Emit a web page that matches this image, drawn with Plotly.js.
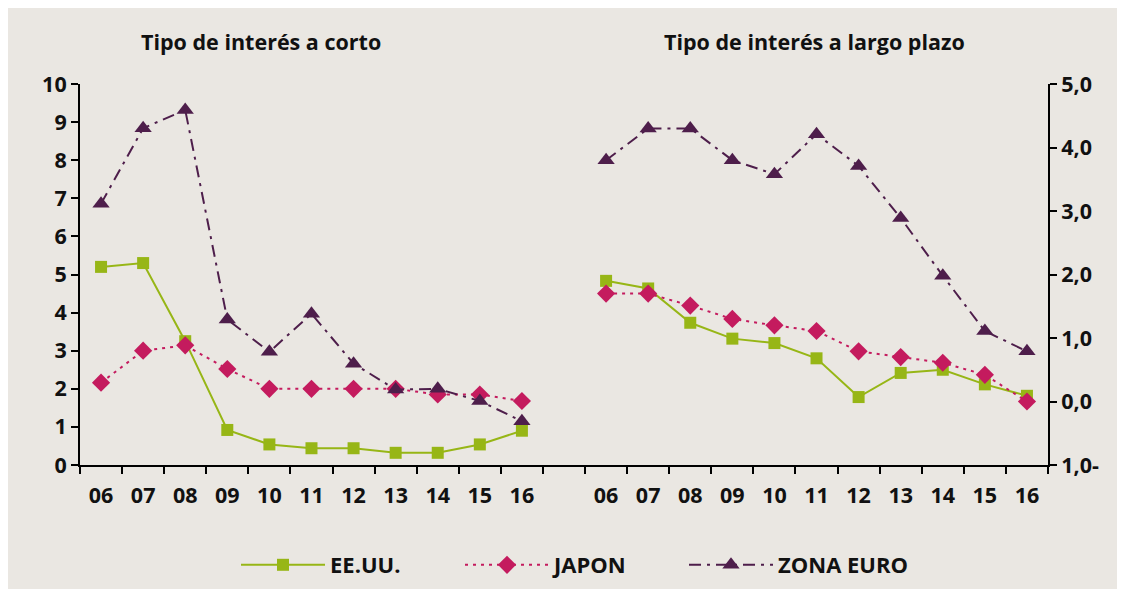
<!DOCTYPE html>
<html>
<head>
<meta charset="utf-8">
<script src="https://cdn.plot.ly/plotly-3.0.1.min.js"></script>
<style>html,body{margin:0;padding:0;background:#fff;}#chart{width:1124px;height:593px;}</style>
</head>
<body>
<div id="chart"></div>
<script>
// Categories (years)
var years = ['06','07','08','09','10','11','12','13','14','15','16'];
// Short-term interest rates (left panel, %)
var shortUS = [5.2, 5.3, 3.25, 0.92, 0.54, 0.44, 0.44, 0.32, 0.32, 0.54, 0.9];
var shortJP = [2.16, 3.0, 3.14, 2.52, 2.0, 2.0, 2.0, 2.0, 1.85, 1.85, 1.68];
var shortEU = [6.86, 8.84, 9.32, 3.82, 2.97, 3.97, 2.66, 1.98, 2.0, 1.68, 1.15];
// Long-term interest rates (right panel, %)
var longUS = [1.9, 1.78, 1.24, 0.99, 0.92, 0.68, 0.07, 0.45, 0.5, 0.27, 0.09];
var longJP = [1.7, 1.7, 1.51, 1.3, 1.2, 1.11, 0.79, 0.7, 0.61, 0.42, 0.0];
var longEU = [3.8, 4.3, 4.3, 3.8, 3.58, 4.21, 3.71, 2.89, 1.98, 1.11, 0.79];
// Tick labels
var leftTickVals = [0, 1, 2, 3, 4, 5, 6, 7, 8, 9, 10];
var rightTickVals = [-1, 0, 1, 2, 3, 4, 5];
var rightTickText = ['1,0-', '0,0', '1,0', '2,0', '3,0', '4,0', '5,0'];
var seriesNames = ['EE.UU.', 'JAPON', 'ZONA EURO'];
var panelTitles = ['Tipo de interés a corto', 'Tipo de interés a largo plazo'];

var GAP = 1; // empty category slot between the two panels
var leftX = years.map(function(_, i){ return i; });
var rightX = years.map(function(_, i){ return i + years.length + GAP; });
var nSlots = years.length * 2 + GAP;

var styles = [
  {color: '#97B616', dash: 'solid', symbol: 'square', size: 12},
  {color: '#C41B5E', dash: '3px,5px', symbol: 'diamond', size: 14},
  {color: '#4E1E4B', dash: '12px,6px,3px,6px', symbol: 'triangle-up', size: 15}
];
var shortSeries = [shortUS, shortJP, shortEU];
var longSeries = [longUS, longJP, longEU];

function mkFont(sz){ return {family: 'Open Sans, sans-serif', color: '#111', size: sz, weight: 700}; }

var traces = [];
shortSeries.forEach(function(vals, k){
  var s = styles[k];
  traces.push({
    type: 'scatter', mode: 'lines+markers', name: seriesNames[k], legendgroup: 'g' + k,
    x: leftX, y: vals, xaxis: 'x', yaxis: 'y',
    line: {color: s.color, width: 2, dash: s.dash},
    marker: {symbol: s.symbol, size: s.size, color: s.color}
  });
});
longSeries.forEach(function(vals, k){
  var s = styles[k];
  traces.push({
    type: 'scatter', mode: 'lines+markers', name: seriesNames[k], legendgroup: 'g' + k, showlegend: false,
    x: rightX, y: vals, xaxis: 'x', yaxis: 'y2',
    line: {color: s.color, width: 2, dash: s.dash},
    marker: {symbol: s.symbol, size: s.size, color: s.color}
  });
});

var labelVals = leftX.concat(rightX);
var labelText = years.concat(years);
var boundaryVals = [];
for (var b = 0; b <= nSlots; b++) boundaryVals.push(b - 0.5);

var W = 1124, H = 593;
var mL = 80, mR = 76, mT = 84, mB = 128;
var plotW = W - mL - mR, plotH = H - mT - mB;
function px2x(p){ return (p - mL) / plotW; }
function px2y(p){ return (H - mB - p) / plotH; }

var layout = {
  width: W, height: H,
  paper_bgcolor: '#FFFFFF', plot_bgcolor: 'rgba(0,0,0,0)',
  margin: {l: mL, r: mR, t: mT, b: mB, pad: 0, autoexpand: false},
  font: mkFont(21.5),
  showlegend: true,
  shapes: [
    {type: 'rect', xref: 'paper', yref: 'paper', layer: 'below', x0: px2x(8), x1: px2x(1117), y0: px2y(589), y1: px2y(8),
     fillcolor: '#EAE7E2', line: {width: 0}}
  ],
  xaxis: {
    range: [-0.5, nSlots - 0.5], tickmode: 'array', tickvals: labelVals, ticktext: labelText,
    ticks: 'outside', ticklen: 10, tickwidth: 1, tickcolor: 'rgba(0,0,0,0)',
    minor: {tickmode: 'array', tickvals: boundaryVals, ticks: 'outside', ticklen: 7, tickwidth: 2, tickcolor: '#000', showgrid: false},
    showline: true, linecolor: '#000', linewidth: 2, showgrid: false, zeroline: false,
    tickfont: mkFont(21.5)
  },
  yaxis: {
    range: [0, 10], tickmode: 'array', tickvals: leftTickVals,
    ticks: 'outside', ticklen: 7, tickwidth: 2, tickcolor: '#000',
    showline: true, linecolor: '#000', linewidth: 2, showgrid: false, zeroline: false,
    tickfont: mkFont(21.5)
  },
  yaxis2: {
    overlaying: 'y', side: 'right', anchor: 'x', range: [-1, 5], tickmode: 'array',
    tickvals: rightTickVals, ticktext: rightTickText,
    ticks: 'outside', ticklen: 7, tickwidth: 2, tickcolor: '#000',
    showline: true, linecolor: '#000', linewidth: 2, showgrid: false, zeroline: false,
    tickfont: mkFont(21.5)
  },
  legend: {
    orientation: 'h', x: px2x(236), xanchor: 'left', y: px2y(565), yanchor: 'middle',
    font: mkFont(22), bgcolor: 'rgba(0,0,0,0)', itemwidth: 84, entrywidth: 125, entrywidthmode: 'pixels',
    traceorder: 'normal'
  },
  annotations: [
    {text: panelTitles[0], xref: 'paper', yref: 'paper', x: px2x(261), y: px2y(42), xanchor: 'center', yanchor: 'middle', showarrow: false, font: mkFont(21.5)},
    {text: panelTitles[1], xref: 'paper', yref: 'paper', x: px2x(814), y: px2y(42), xanchor: 'center', yanchor: 'middle', showarrow: false, font: mkFont(21.5)}
  ]
};

Plotly.newPlot('chart', traces, layout, {staticPlot: true, displayModeBar: false});
</script>
</body>
</html>
